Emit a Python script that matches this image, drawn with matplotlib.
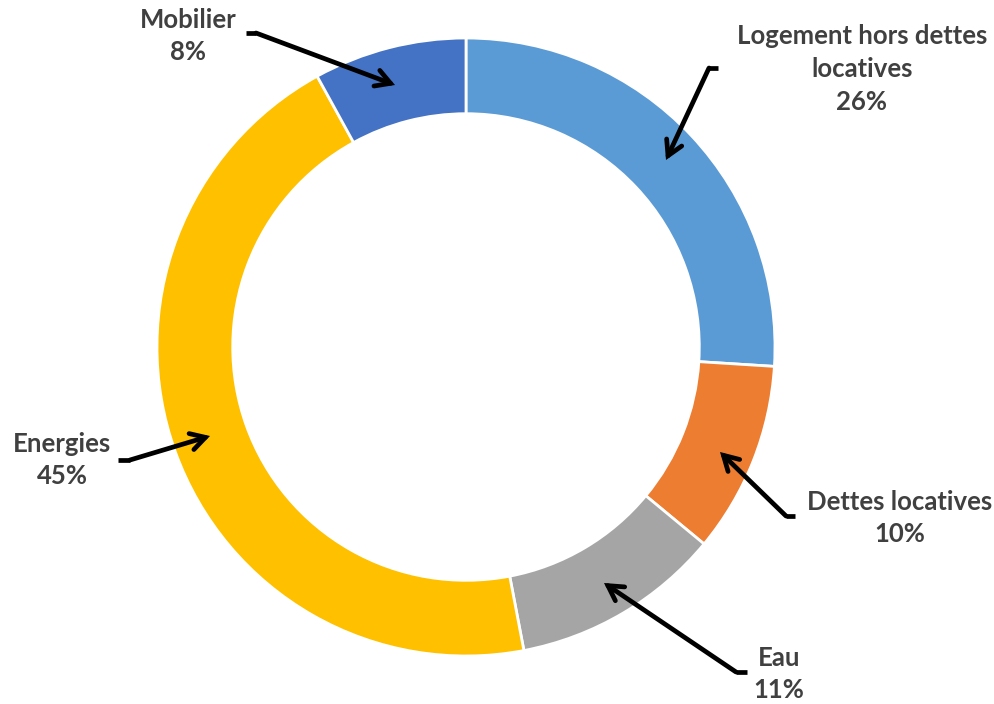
import matplotlib
matplotlib.use("Agg")
import matplotlib.pyplot as plt

categories = ["Logement hors dettes\nlocatives", "Dettes locatives", "Eau", "Energies", "Mobilier"]
values = [26, 10, 11, 45, 8]
colors = ["#5B9BD5", "#ED7D31", "#A5A5A5", "#FFC000", "#4472C4"]

plt.rcParams['font.family'] = ['Lato', 'DejaVu Sans']

W, H = 995, 704
CX, CY, R = 466, 347, 309

def px(x, y):
    return ((x - CX) / R, (CY - y) / R)

fig = plt.figure(figsize=(W / 100, H / 100), dpi=100)
ax = fig.add_axes([0, 0, 1, 1])
ax.pie(values, colors=colors, startangle=90, counterclock=False, radius=1,
       wedgeprops=dict(width=0.245, edgecolor="white", linewidth=2))
ax.set_xlim(-CX / R, (W - CX) / R)
ax.set_ylim(-(H - CY) / R, CY / R)
ax.set_aspect('auto')
ax.axis('off')

# label positions (pixel), arrow polylines (tail stub -> bend -> head)
label_pos = [(862, 69), (900, 518), (779, 674), (62, 460), (188, 36)]
arrows = [
    [(718, 68), (709, 68), (666, 160)],
    [(795, 516), (786, 516), (720, 452)],
    [(747, 672), (736, 672), (604, 583)],
    [(118, 460), (130, 460), (210, 436)],
    [(246, 33), (256, 33), (395, 85)],
]

for cat, v, (lx, ly), arr in zip(categories, values, label_pos, arrows):
    x, y = px(lx, ly)
    ax.text(x, y, f"{cat}\n{v}%", ha="center", va="center", fontsize=18.5,
            fontweight="bold", color="#404040", linespacing=1.45)
    p0, p1, p2 = [px(*p) for p in arr]
    ax.plot([p0[0], p1[0]], [p0[1], p1[1]], color="black", lw=3.4,
            solid_capstyle="butt")
    ax.annotate("", xy=p2, xytext=p1,
                arrowprops=dict(arrowstyle="->,head_length=1.05,head_width=0.6",
                                color="black", lw=3.4, shrinkA=0, shrinkB=0,
                                joinstyle="miter"))

fig.savefig("out.png", dpi=100, facecolor="white")
